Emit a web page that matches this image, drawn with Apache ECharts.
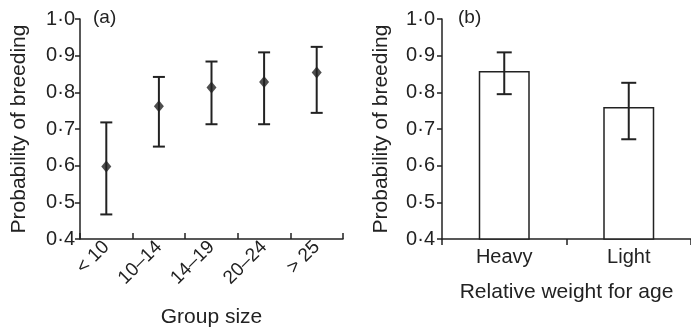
<!DOCTYPE html>
<html>
<head>
<meta charset="utf-8">
<script src="https://cdn.jsdelivr.net/npm/echarts@6/dist/echarts.min.js"></script>
<style>
  html, body { margin: 0; padding: 0; background: #fff; }
  #chart { width: 691px; height: 333px; }
</style>
</head>
<body>
<div id="chart"></div>
<script>
// panel (a) - group size
const groupSizes = ['< 10', '10\u201314', '14\u201319', '20\u201324', '> 25'];
const groupMean = [0.598, 0.762, 0.813, 0.828, 0.854];
const groupLow = [0.467, 0.652, 0.713, 0.713, 0.744];
const groupHigh = [0.718, 0.842, 0.884, 0.909, 0.924];

// panel (b) - relative weight
const weightCats = ['Heavy', 'Light'];
const weightMean = [0.858, 0.760];
const weightLow = [0.795, 0.672];
const weightHigh = [0.909, 0.826];

const ink = '#222';
const fontFamily = '"Liberation Sans", Arial, sans-serif';

function errRender(capW) {
    return function (params, api) {
        const x = api.value(0);
        const top = api.coord([x, api.value(2)]);
        const bot = api.coord([x, api.value(1)]);
        const st = { stroke: ink, lineWidth: 2 };
        return {
            type: 'group',
            children: [
                { type: 'line', shape: { x1: top[0], y1: top[1], x2: bot[0], y2: bot[1] }, style: st },
                { type: 'line', shape: { x1: top[0] - capW / 2, y1: top[1], x2: top[0] + capW / 2, y2: top[1] }, style: st },
                { type: 'line', shape: { x1: bot[0] - capW / 2, y1: bot[1], x2: bot[0] + capW / 2, y2: bot[1] }, style: st }
            ]
        };
    };
}

function yAxisOpt(gridIndex, labelMargin) {
    return {
        type: 'value',
        gridIndex: gridIndex,
        min: 0.4,
        max: 1.0,
        interval: 0.1,
        name: 'Probability of breeding',
        nameLocation: 'middle',
        nameGap: 50,
        nameTextStyle: { color: ink, fontSize: 21, fontFamily: fontFamily },
        axisLine: { show: true, lineStyle: { color: ink, width: 1.5 } },
        axisTick: { show: true, length: 5, lineStyle: { color: ink, width: 1.5 } },
        splitLine: { show: false },
        axisLabel: {
            color: ink, fontSize: 20, fontFamily: fontFamily, margin: labelMargin,
            formatter: v => v.toFixed(1).replace('.', '\u00b7')
        }
    };
}

const myEcharts = echarts.init(document.getElementById('chart'));
const option = {
    animation: false,
    backgroundColor: '#fff',
    grid: [
        { left: 80, top: 19, width: 263, height: 220 },
        { left: 442, top: 19, width: 256, height: 220 }
    ],
    title: [
        { text: '(a)', left: 88, top: 3, textStyle: { color: ink, fontSize: 19, fontWeight: 'normal', fontFamily: fontFamily } },
        { text: '(b)', left: 453, top: 3, textStyle: { color: ink, fontSize: 19, fontWeight: 'normal', fontFamily: fontFamily } }
    ],
    xAxis: [
        {
            type: 'category',
            gridIndex: 0,
            data: groupSizes,
            name: 'Group size',
            nameLocation: 'middle',
            nameGap: 68,
            nameTextStyle: { color: ink, fontSize: 21, fontFamily: fontFamily },
            axisLine: { lineStyle: { color: ink, width: 1.5 } },
            axisTick: { show: true, inside: true, length: 6, lineStyle: { color: ink, width: 1.5 } },
            axisLabel: { color: ink, fontSize: 19, fontFamily: fontFamily, rotate: 45, margin: 5, interval: 0 }
        },
        {
            type: 'category',
            gridIndex: 1,
            data: weightCats,
            name: 'Relative weight for age',
            nameLocation: 'middle',
            nameGap: 43,
            nameTextStyle: { color: ink, fontSize: 21, fontFamily: fontFamily },
            axisLine: { lineStyle: { color: ink, width: 1.5 } },
            axisTick: { show: true, length: 6, lineStyle: { color: ink, width: 1.5 } },
            axisLabel: { color: ink, fontSize: 20, fontFamily: fontFamily, margin: 8 }
        }
    ],
    yAxis: [yAxisOpt(0, 5), yAxisOpt(1, 7)],
    series: [
        {
            type: 'custom',
            xAxisIndex: 0,
            yAxisIndex: 0,
            renderItem: errRender(12),
            data: groupSizes.map((c, i) => [i, groupLow[i], groupHigh[i]]),
            z: 2
        },
        {
            type: 'scatter',
            xAxisIndex: 0,
            yAxisIndex: 0,
            symbol: 'diamond',
            symbolSize: [10, 12],
            itemStyle: { color: ink },
            data: groupMean,
            z: 3
        },
        {
            type: 'bar',
            xAxisIndex: 1,
            yAxisIndex: 1,
            barWidth: 51,
            itemStyle: { color: '#fff', borderColor: ink, borderWidth: 1.5 },
            data: weightMean,
            z: 2
        },
        {
            type: 'custom',
            xAxisIndex: 1,
            yAxisIndex: 1,
            renderItem: errRender(15),
            data: weightCats.map((c, i) => [i, weightLow[i], weightHigh[i]]),
            z: 3
        }
    ]
};
myEcharts.setOption(option);
</script>
</body>
</html>
